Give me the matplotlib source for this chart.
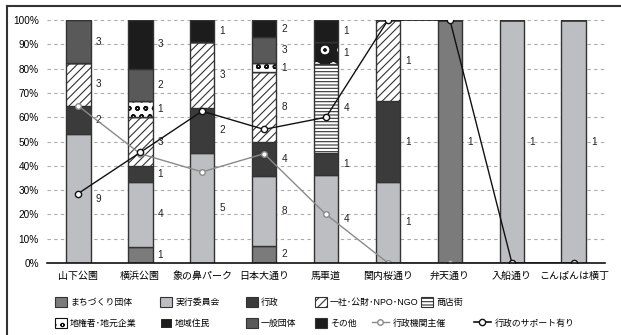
import numpy as np
import matplotlib
matplotlib.use("Agg")
import matplotlib.pyplot as plt
from matplotlib.patches import Patch
from matplotlib.lines import Line2D

plt.rcParams["font.family"] = ["Liberation Sans", "Noto Sans CJK JP"]
plt.rcParams["hatch.linewidth"] = 0.8

places = ["山下公園", "横浜公園", "象の鼻パーク", "日本大通り", "馬車道",
          "関内桜通り", "弁天通り", "入船通り", "こんぱんは横丁"]

# counts per organiser type (bottom -> top)
machizukuri = [0, 1, 0, 2, 0, 0, 1, 0, 0]
jikko       = [9, 4, 5, 8, 4, 1, 0, 1, 1]
gyosei      = [2, 1, 2, 4, 1, 1, 0, 0, 0]
npo         = [3, 3, 3, 8, 0, 1, 0, 0, 0]
shotengai   = [0, 0, 0, 0, 4, 0, 0, 0, 0]
chiken      = [0, 1, 0, 1, 0, 0, 0, 0, 0]
jumin       = [0, 0, 0, 0, 1, 0, 0, 0, 0]
ippan       = [3, 2, 0, 3, 0, 0, 0, 0, 0]
sonota      = [0, 3, 1, 2, 1, 0, 0, 0, 0]

# line series (share, %)
gyosei_shusai = [64.7, 45.0, 37.5, 45.0, 20.0, 0, 0, 0, 0]
gyosei_support = [28.6, 45.5, 62.5, 55.0, 60.0, 100, 100, 0, 0]

EDGE = "#333333"
series = [
    ("まちづくり団体", machizukuri, dict(facecolor="#7b7b7b", edgecolor=EDGE)),
    ("実行委員会", jikko, dict(facecolor="#bdbec1", edgecolor=EDGE)),
    ("行政", gyosei, dict(facecolor="#3b3b3b", edgecolor=EDGE)),
    ("一社･公財･NPO･NGO", npo, dict(facecolor="white", edgecolor=EDGE, hatch="////")),
    ("商店街", shotengai, dict(facecolor="white", edgecolor=EDGE, hatch="-----")),
    ("地権者･地元企業", chiken, dict(facecolor="white", edgecolor="#111111", hatch="oo")),
    ("地域住民", jumin, dict(facecolor="#1c1c1c", edgecolor="white", hatch="o")),
    ("一般団体", ippan, dict(facecolor="#595959", edgecolor=EDGE)),
    ("その他", sonota, dict(facecolor="#1c1c1c", edgecolor=EDGE)),
]
dot_width = {"地権者･地元企業": 1.1, "地域住民": 1.4}

data = np.array([s[1] for s in series], dtype=float)
totals = data.sum(axis=0)
pct = data / totals * 100

fig = plt.figure(figsize=(6.21, 3.35), dpi=100)
ax = fig.add_axes([0.076, 0.215, 0.898, 0.725])

x = np.arange(len(places))
w = 0.4
bottom = np.zeros(len(places))
for (name, vals, style), p, v in zip(series, pct, data):
    if name in dot_width:
        with plt.rc_context({"hatch.linewidth": dot_width[name]}):
            ax.bar(x, p, w, bottom=bottom, linewidth=0, zorder=2, **style)
        ax.bar(x, p, w, bottom=bottom, fill=False, edgecolor=EDGE,
               linewidth=1, zorder=2)
    else:
        ax.bar(x, p, w, bottom=bottom, linewidth=1, zorder=2, **style)
    for i in range(len(places)):
        if v[i] > 0:
            ax.text(x[i] + w / 2 + 0.08, bottom[i] + p[i] / 2, f"{int(v[i])}",
                    va="center", ha="left", fontsize=7.2, color="#222222", zorder=3)
    bottom += p

ax.plot(x, gyosei_shusai, color="#8a8a8a", lw=1, marker="o", ms=4,
        mfc="white", mec="#8a8a8a", zorder=4)
ax.plot(x, gyosei_support, color="#111111", lw=1, marker="o", ms=4.5,
        mfc="white", mec="#111111", zorder=5)

ax.set_xlim(-0.5, 8.5)
ax.set_ylim(0, 100)
ax.set_yticks(np.arange(0, 101, 10))
ax.set_yticklabels([f"{t}%" for t in range(0, 101, 10)], fontsize=7.2)
ax.set_xticks(x)
ax.set_xticklabels(places, fontsize=7.2)
ax.tick_params(length=0, pad=6)
ax.yaxis.grid(True, linestyle=(0, (3, 3)), color="#aaaaaa", lw=0.8)
ax.set_axisbelow(True)
for s in ["left", "right", "top"]:
    ax.spines[s].set_visible(False)
ax.spines["bottom"].set_color("#111111")
ax.spines["bottom"].set_linewidth(1.2)
ax.spines["bottom"].set_zorder(6)

# legend entries, laid out by hand like the original
handles = []
for name, vals, style in series:
    if name in dot_width:
        with plt.rc_context({"hatch.linewidth": dot_width[name]}):
            handles.append(Patch(linewidth=0.8, **style))
    else:
        handles.append(Patch(linewidth=0.8, **style))
names = [s[0] for s in series]
line1 = Line2D([], [], color="#8a8a8a", marker="o", mfc="white", ms=4, lw=1)
line2 = Line2D([], [], color="#111111", marker="o", mfc="white", ms=4.5, lw=1.2)

entries = [
    (handles[0], names[0], 55, 302), (handles[1], names[1], 160, 302),
    (handles[2], names[2], 246, 302), (handles[3], names[3], 315, 302),
    (handles[4], names[4], 421, 302),
    (handles[5], names[5], 55, 323), (handles[6], names[6], 160, 323),
    (handles[7], names[7], 246, 323), (handles[8], names[8], 315, 323),
    (line1, "行政機関主催", 372, 323), (line2, "行政のサポート有り", 474, 323),
]
for h, lab, px, py in entries:
    hl = 1.9 if isinstance(h, Line2D) else 1.3
    fig.legend([h], [lab], loc="center left", bbox_to_anchor=(px / 621, 1 - py / 335),
               frameon=False, fontsize=6.4, handlelength=hl, handleheight=1.3,
               handletextpad=0.4, borderpad=0, borderaxespad=0)

# outer frame (left and top)
fig.add_artist(Line2D([0.011, 1.0], [0.982, 0.982], transform=fig.transFigure,
                      color="#333333", lw=1.5))
fig.add_artist(Line2D([0.011, 0.011], [0.0, 0.982], transform=fig.transFigure,
                      color="#333333", lw=1.5))

fig.savefig("out.png", dpi=100)
